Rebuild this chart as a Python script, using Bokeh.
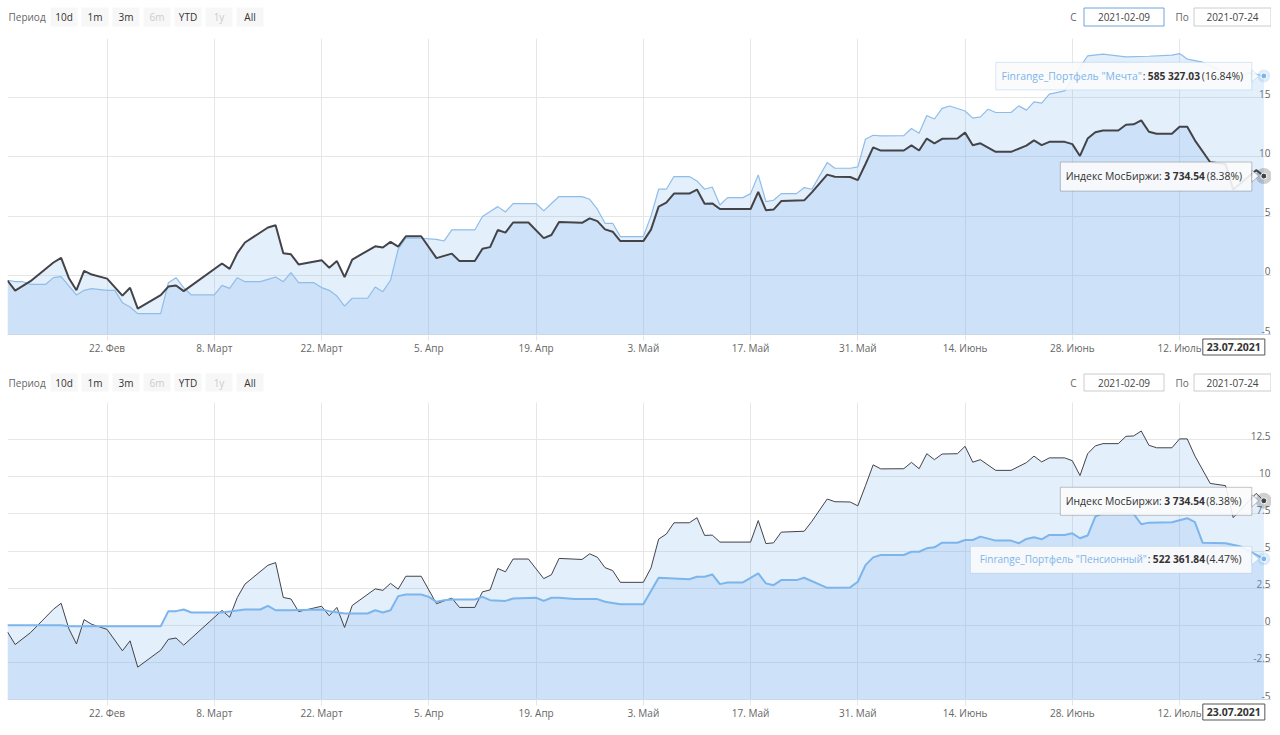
import datetime as dt
from bokeh.plotting import figure
from bokeh.models import Range1d, FixedTicker, Label, BoxAnnotation, PolyAnnotation
from bokeh.layouts import column
from bokeh.embed import file_html
from bokeh.resources import INLINE
from bokeh.core.properties import value

FONT = "Open Sans"
START = dt.date(2021, 2, 9)
END = dt.date(2021, 7, 24)

# ---------------- data ----------------
x_tick_dates = ["2021-02-22", "2021-03-08", "2021-03-22", "2021-04-05", "2021-04-19", "2021-05-03",
                "2021-05-17", "2021-05-31", "2021-06-14", "2021-06-28", "2021-07-12"]
x_tick_labels = ["22. Фев", "8. Март", "22. Март", "5. Апр", "19. Апр", "3. Май",
                 "17. Май", "31. Май", "14. Июнь", "28. Июнь", "12. Июль"]

# day offset from START, % change
moex_days = [0, 1, 3, 6, 7, 8, 9, 10, 11, 13, 15, 16, 17, 20, 21, 22, 23, 28, 29, 30,
             31, 34, 35, 36, 37, 38, 41, 42, 43, 44, 45, 48, 49, 50, 51, 52, 54, 56, 58, 59,
             61, 62, 63, 64, 65, 66, 68, 70, 71, 72, 75, 76, 77, 78, 79, 80, 83, 84, 85, 86,
             87, 89, 90, 91, 92, 93, 97, 98, 99, 100, 101, 104, 105, 107, 108, 110, 111, 112, 113, 114,
             117, 118, 119, 120, 121, 122, 124, 125, 126, 127, 129, 131, 133, 134, 135, 136, 138, 139, 140, 141,
             142, 143, 145, 146, 147, 148, 149, 150, 152, 153, 154, 155, 157, 159, 160, 163, 164]
moex_vals = [-0.45, -1.3, -0.5, 1.08, 1.48, -0.22, -1.26, 0.38, 0.06, -0.28, -1.72, -1.05, -2.82, -1.68, -0.95, -0.86, -1.34, 1.0, 0.54, 1.87,
             2.77, 4.04, 4.22, 1.87, 1.77, 0.92, 1.28, 0.64, 1.2, -0.15, 1.33, 2.45, 2.35, 2.82, 2.43, 3.3, 3.3, 1.45, 1.83, 1.2,
             1.2, 2.25, 2.38, 3.82, 3.6, 4.46, 4.46, 3.14, 3.4, 4.5, 4.43, 4.81, 4.58, 3.88, 3.68, 2.89, 2.89, 3.86, 5.8, 6.14,
             6.9, 6.9, 7.24, 6.05, 6.07, 5.6, 5.6, 7.05, 5.5, 5.55, 6.27, 6.33, 7.0, 8.5, 8.32, 8.3, 8.04, 9.4, 10.8, 10.53,
             10.54, 10.97, 10.54, 11.55, 11.15, 11.53, 11.55, 12.05, 10.98, 11.15, 10.43, 10.43, 10.95, 11.39, 11.0, 11.27, 11.27, 11.08, 10.08, 11.55,
             12.08, 12.23, 12.23, 12.72, 12.75, 13.08, 12.12, 11.95, 11.95, 12.55, 12.55, 11.4, 9.55, 9.4, 7.25, 8.88, 8.38]

mechta_days = [0, 1, 2, 3, 5, 6, 7, 8, 9, 10, 11, 13, 14, 15, 16, 17, 20, 21, 22, 23,
               24, 27, 28, 29, 30, 31, 33, 34, 35, 36, 37, 38, 40, 41, 42, 43, 44, 45, 47, 48,
               49, 50, 51, 52, 54, 56, 57, 58, 61, 62, 63, 64, 65, 66, 69, 70, 71, 72, 75, 76,
               77, 78, 79, 80, 83, 84, 85, 86, 87, 89, 90, 91, 92, 93, 94, 96, 97, 98, 99, 100,
               101, 103, 104, 105, 107, 108, 110, 111, 112, 113, 114, 117, 118, 119, 120, 121, 122, 123, 125, 126,
               127, 128, 129, 131, 132, 133, 134, 135, 136, 138, 141, 143, 146, 149, 152, 153, 154, 156, 158, 160,
               162, 164]
mechta_vals = [-0.42, -0.54, -0.54, -0.76, -0.76, -0.2, -0.11, -0.9, -1.66, -1.27, -1.13, -1.27, -1.27, -2.31, -2.68, -3.24, -3.24, -0.62, -0.2, -1.04,
               -1.66, -1.66, -0.85, -1.1, -0.2, -0.54, -0.54, -0.34, -0.14, -0.54, 0.23, -0.62, -0.62, -1.04, -1.27, -1.75, -2.6, -1.94, -1.94, -0.99,
               -1.38, -0.42, 2.2, 3.15, 3.13, 3.04, 2.9, 3.83, 3.83, 4.96, 5.38, 5.8, 5.35, 6.06, 6.06, 5.44, 6.06, 6.65, 6.65, 6.42,
               5.58, 4.39, 4.39, 3.27, 3.27, 5.0, 7.27, 7.27, 8.34, 8.34, 7.97, 7.27, 7.46, 5.94, 6.56, 6.56, 6.9, 8.48, 6.23, 6.34,
               6.9, 6.9, 7.41, 7.27, 9.52, 9.04, 9.04, 9.15, 11.49, 11.83, 11.77, 11.8, 12.4, 12.0, 13.5, 13.2, 14.1, 14.3, 13.88, 13.27,
               13.38, 14.03, 13.75, 13.75, 14.31, 13.95, 14.65, 14.54, 15.3, 15.58, 18.54, 18.68, 18.45, 18.5, 18.6, 18.73, 18.26, 18.0, 17.4, 16.7,
               17.1, 16.84]

pension_days = [0, 7, 8, 20, 21, 22, 23, 24, 28, 31, 33, 34, 35, 37, 41, 42, 44, 47, 48, 49,
                50, 51, 52, 54, 55, 56, 57, 58, 61, 62, 63, 65, 66, 69, 70, 71, 72, 74, 77, 78,
                80, 83, 85, 89, 90, 91, 92, 93, 94, 96, 98, 99, 100, 101, 103, 104, 107, 110, 111, 112,
                113, 114, 117, 118, 119, 120, 121, 122, 124, 125, 126, 127, 129, 131, 132, 133, 134, 135, 136, 138,
                139, 140, 141, 142, 143, 147, 148, 149, 152, 154, 155, 156, 159, 161, 164]
pension_vals = [0.0, 0.0, -0.07, -0.07, 0.95, 0.95, 1.06, 0.86, 0.86, 1.06, 1.06, 1.31, 1.01, 1.01, 1.06, 0.95, 0.79, 0.79, 1.01, 0.86,
                1.01, 1.96, 2.07, 2.07, 1.91, 1.58, 1.69, 1.73, 1.73, 1.91, 1.69, 1.64, 1.8, 1.85, 1.64, 1.85, 1.85, 1.76, 1.76, 1.58,
                1.42, 1.42, 3.2, 3.1, 3.27, 3.27, 3.42, 2.77, 2.88, 2.88, 3.49, 2.82, 2.7, 3.04, 3.04, 3.2, 2.52, 2.55, 2.93, 4.05,
                4.57, 4.73, 4.73, 4.95, 4.95, 5.18, 5.25, 5.56, 5.56, 5.74, 5.74, 5.97, 5.7, 5.7, 5.52, 5.81, 5.92, 5.79, 6.08, 6.08,
                6.19, 5.86, 6.04, 7.32, 7.55, 7.5, 6.8, 6.91, 6.94, 7.21, 6.94, 5.56, 5.52, 5.3, 4.47]

top_grid = [-5, 0, 5, 10, 15, 20]
bottom_grid = [-5, -2.5, 0, 2.5, 5, 7.5, 10, 12.5, 15]

range_buttons = ["10d", "1m", "3m", "6m", "YTD", "1y", "All"]
range_disabled = ["6m", "1y"]
date_from = "2021-02-09"
date_to = "2021-07-24"
hover_date = "23.07.2021"

moex_name = "Индекс МосБиржи:"
moex_last_text = "3 734.54"
mechta_name = 'Finrange_Портфель "Мечта"'
mechta_last_text = "585 327.03"
pension_name = 'Finrange_Портфель "Пенсионный"'
pension_last_text = "522 361.84"

# ---------------- styles ----------------
LEFT = 7
FRAME_W = 1264
W = LEFT + FRAME_W
N_DAYS = (END - START).days
BLUE = "#7cb5ec"
DARK = "#434348"
GRID = "#e6e6e6"
TXT = "#333333"
AREA_ALPHA = 0.21

tick_days = [(dt.date.fromisoformat(s) - START).days for s in x_tick_dates]


def make_selector(h, by, bh, focus_first):
    # x data coordinates == page pixels
    s = figure(width=W, height=h, x_range=Range1d(LEFT, W), y_range=Range1d(h, 0),
               output_backend="svg", toolbar_location=None, min_border=0, min_border_left=LEFT,
               x_axis_location=None, y_axis_location=None)
    s.outline_line_color = None
    s.grid.visible = False
    cy = by + bh / 2
    txt = dict(text_font=value(FONT), text_font_size="10px", text_baseline="middle")
    s.text(x=[8], y=[cy], text=["Период"], text_color="#666666", **txt)
    n = len(range_buttons)
    lefts = [50 + 31 * i for i in range(n)]
    s.quad(left=lefts, right=[l + 27 for l in lefts], top=[by] * n, bottom=[by + bh] * n,
           fill_color="#f7f7f7", line_color=None)
    colors = ["#cccccc" if b in range_disabled else TXT for b in range_buttons]
    s.text(x=[l + 13.5 for l in lefts], y=[cy] * n, text=range_buttons, text_align="center",
           text_color=colors, **txt)
    s.text(x=[1076], y=[cy], text=["С"], text_align="right", text_color="#666666", **txt)
    s.quad(left=[1083.5], right=[1163.5], top=[by + 0.5], bottom=[by + bh - 0.5], fill_color="white",
           line_color="#6fa3dc" if focus_first else "#cccccc", line_width=1)
    s.text(x=[1123.5], y=[cy], text=[date_from], text_align="center", text_color="#444444", **txt)
    s.text(x=[1175], y=[cy], text=["По"], text_align="left", text_color="#666666", **txt)
    s.quad(left=[1193.5], right=[1270.5], top=[by + 0.5], bottom=[by + bh - 0.5], fill_color="white",
           line_color="#cccccc", line_width=1)
    s.text(x=[1232], y=[cy], text=[date_to], text_align="center", text_color="#444444", **txt)
    return s


def make_chart(height, plot_h, grid_ticks):
    y_lo, y_max = grid_ticks[0], grid_ticks[-1]
    ky = plot_h / (y_max - y_lo)
    kx = FRAME_W / N_DAYS
    y_bottom = y_lo - (height - plot_h) / ky
    p = figure(width=W, height=height, x_range=Range1d(0, N_DAYS), y_range=Range1d(y_bottom, y_max),
               output_backend="svg", toolbar_location=None, y_axis_location="right",
               min_border_left=LEFT, min_border_right=0, min_border_top=0, min_border_bottom=0)
    p.outline_line_color = None
    p.yaxis.visible = False
    p.ygrid.ticker = FixedTicker(ticks=grid_ticks)
    p.xgrid.ticker = FixedTicker(ticks=tick_days)
    p.grid.grid_line_color = GRID
    p.grid.grid_line_width = 1
    # blank out grid below the plotting area (axis label strip)
    p.add_layout(BoxAnnotation(top=y_lo, fill_color="white", fill_alpha=1, line_color=None, level="underlay"))
    ax = p.xaxis[0]
    ax.fixed_location = y_lo
    ax.ticker = FixedTicker(ticks=tick_days)
    ax.major_label_overrides = {d: l for d, l in zip(tick_days, x_tick_labels)}
    ax.axis_line_color = "#ccd6eb"
    ax.major_tick_line_color = GRID
    ax.major_tick_out = 6
    ax.major_tick_in = 0
    ax.minor_tick_line_color = None
    ax.major_label_standoff = 0
    ax.major_label_text_font = FONT
    ax.major_label_text_font_size = "10px"
    ax.major_label_text_color = "#666666"
    lab = grid_ticks[:-1]
    p.text(x=[N_DAYS] * len(lab), y=lab, text=[f"{t:g}" for t in lab], text_align="right",
           text_baseline="bottom", x_offset=-1, text_font=value(FONT),
           text_font_size="10px", text_color="#666666")
    return p, kx, ky, y_lo


def add_area(p, days, vals, y_lo):
    p.varea(x=days, y1=[y_lo] * len(days), y2=vals, fill_color=BLUE, fill_alpha=AREA_ALPHA)


def add_marker(p, days, vals, color, halo):
    p.scatter(x=[days[-1]], y=[vals[-1]], size=halo, fill_color=color, fill_alpha=0.25, line_color=None)
    p.scatter(x=[days[-1]], y=[vals[-1]], size=6, fill_color=color, line_color="white", line_width=1)


def add_tooltip(p, kx, ky, days, vals, box_left, up, down, border, name, name_color, bold_txt,
                bold_off, pct_off, name_size="10.4px"):
    x0, y0 = days[-1], vals[-1]
    r = 12
    p.add_layout(BoxAnnotation(left=x0 - box_left / kx, right=x0 - r / kx, top=y0 + up / ky,
                               bottom=y0 - down / ky, fill_color="#fbfbfb", fill_alpha=0.9,
                               line_color=border, line_width=1))
    p.add_layout(PolyAnnotation(xs=[x0 - r / kx, x0 - 5 / kx, x0 - r / kx], ys=[y0 + 6 / ky, y0, y0 - 6 / ky],
                                fill_color="#fbfbfb", fill_alpha=0.9, line_color=border, line_width=1))
    common = dict(x=x0, y=y0, text_font=FONT, text_baseline="middle")
    if name_color == TXT:
        p.add_layout(Label(x_offset=-(bold_off + 2.5), text=name, text_align="right", text_color=TXT,
                           text_font_size=name_size, **common))
    else:
        p.add_layout(Label(x_offset=-(bold_off + 6), text=name, text_align="right", text_color=name_color,
                           text_font_size=name_size, **common))
        p.add_layout(Label(x_offset=-(bold_off + 5), text=":", text_align="left", text_color=TXT,
                           text_font_size="10.4px", **common))
    p.add_layout(Label(x_offset=-bold_off, text=bold_txt, text_align="left", text_color=TXT,
                       text_font_size="10.2px", text_font_style="bold", **common))
    p.add_layout(Label(x_offset=-pct_off, text=f"({vals[-1]:.2f}%)", text_align="left", text_color=TXT,
                       text_font_size="10.4px", **common))


def add_hover_date(p, ky, days, y_lo):
    p.add_layout(Label(x=days[-1], y=y_lo - 12.5 / ky, x_offset=1, text=hover_date, text_align="right",
                       text_baseline="middle", text_font=FONT, text_font_size="10.5px",
                       text_font_style="bold", text_color=TXT, background_fill_color="#ffffff",
                       border_line_color="#555555", border_line_width=1, padding=4))


# ---------------- top chart ----------------
sel1 = make_selector(38, 7, 19, True)
p1, kx1, ky1, ylo1 = make_chart(328, 296, top_grid)
add_area(p1, mechta_days, mechta_vals, ylo1)
add_area(p1, moex_days, moex_vals, ylo1)
p1.line(mechta_days, mechta_vals, line_color="#8fbde9", line_width=1.2)
p1.line(moex_days, moex_vals, line_color=DARK, line_width=2)
add_marker(p1, mechta_days, mechta_vals, BLUE, 13)
add_marker(p1, moex_days, moex_vals, DARK, 16)
add_tooltip(p1, kx1, ky1, mechta_days, mechta_vals, 268, 13.6, 14, BLUE,
            mechta_name, BLUE, mechta_last_text, 116, 62)
add_tooltip(p1, kx1, ky1, moex_days, moex_vals, 203.5, 14, 15, DARK,
            moex_name, TXT, moex_last_text, 99.5, 57)
add_hover_date(p1, ky1, moex_days, ylo1)

# ---------------- bottom chart ----------------
sel2 = make_selector(36, 7, 18, False)
p2, kx2, ky2, ylo2 = make_chart(325, 297, bottom_grid)
add_area(p2, moex_days, moex_vals, ylo2)
add_area(p2, pension_days, pension_vals, ylo2)
p2.line(moex_days, moex_vals, line_color=DARK, line_width=1)
p2.line(pension_days, pension_vals, line_color=BLUE, line_width=2)
add_marker(p2, moex_days, moex_vals, DARK, 16)
add_marker(p2, pension_days, pension_vals, BLUE, 13)
add_tooltip(p2, kx2, ky2, moex_days, moex_vals, 203.5, 13.5, 14.5, DARK,
            moex_name, TXT, moex_last_text, 99.5, 57.5)
add_tooltip(p2, kx2, ky2, pension_days, pension_vals, 293.5, 12.5, 14.5, BLUE,
            pension_name, BLUE, pension_last_text, 111, 57.5, name_size="10px")
add_hover_date(p2, ky2, moex_days, ylo2)

layout = column(sel1, p1, sel2, p2, spacing=0)
open("out.html", "w").write(file_html(layout, INLINE))
